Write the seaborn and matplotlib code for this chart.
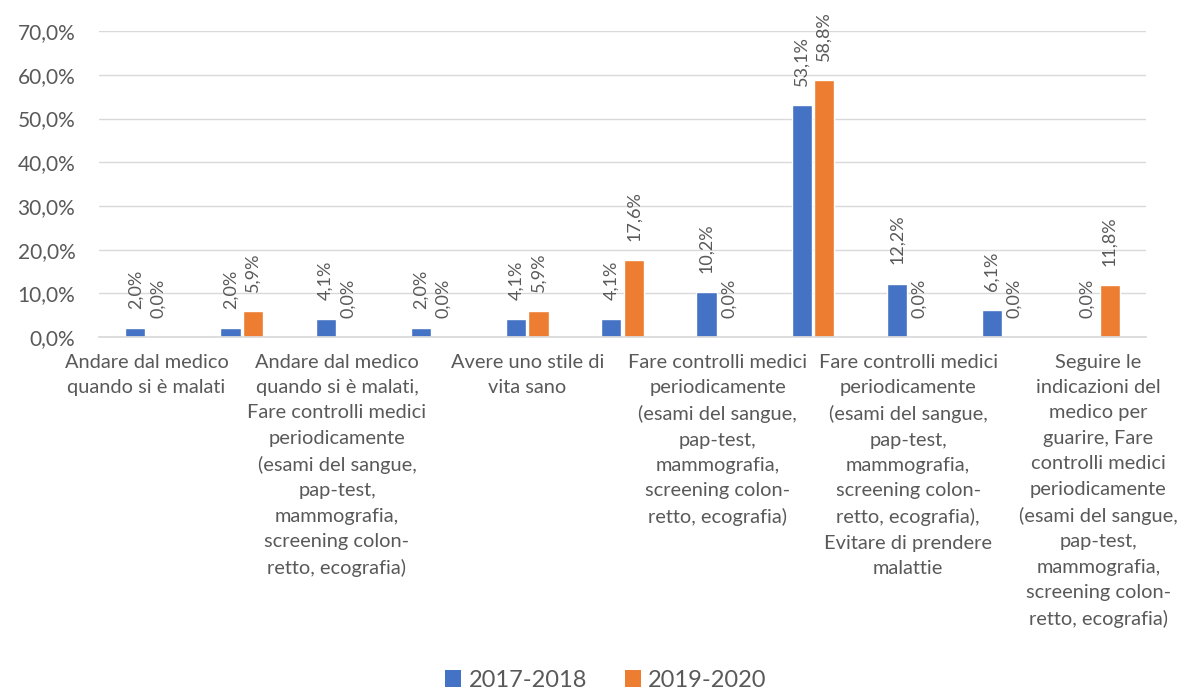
import matplotlib
matplotlib.use("Agg")
import matplotlib.pyplot as plt
import seaborn as sns
import pandas as pd
from matplotlib.ticker import FuncFormatter
from matplotlib.patches import Patch

# ---- data ----
category_keys = ["k01", "k02", "k03", "k04", "k05", "k06",
                 "k07", "k08", "k09", "k10", "k11"]
tick_labels = [
    "Andare dal medico\nquando si è malati",
    "",
    "Andare dal medico\nquando si è malati,\nFare controlli medici\nperiodicamente\n(esami del sangue,\npap-test,\nmammografia,\nscreening colon-\nretto, ecografia)",
    "",
    "Avere uno stile di\nvita sano",
    "",
    "Fare controlli medici\nperiodicamente\n(esami del sangue,\npap-test,\nmammografia,\nscreening colon-\nretto, ecografia)",
    "",
    "Fare controlli medici\nperiodicamente\n(esami del sangue,\npap-test,\nmammografia,\nscreening colon-\nretto, ecografia),\nEvitare di prendere\nmalattie",
    "",
    "Seguire le\nindicazioni del\nmedico per\nguarire, Fare\ncontrolli medici\nperiodicamente\n(esami del sangue,\npap-test,\nmammografia,\nscreening colon-\nretto, ecografia)",
]
series_names = ["2017-2018", "2019-2020"]
values_2017_2018 = [2.0, 2.0, 4.1, 2.0, 4.1, 4.1, 10.2, 53.1, 12.2, 6.1, 0.0]
values_2019_2020 = [0.0, 5.9, 0.0, 0.0, 5.9, 17.6, 0.0, 58.8, 0.0, 0.0, 11.8]
y_ticks = [0, 10, 20, 30, 40, 50, 60, 70]
colors = ["#4472C4", "#ED7D31"]

df = pd.DataFrame({
    "cat": category_keys * 2,
    "serie": [series_names[0]] * len(category_keys) + [series_names[1]] * len(category_keys),
    "val": values_2017_2018 + values_2019_2020,
})

sns.set_theme(style="white")
plt.rcParams["font.family"] = ["Lato", "DejaVu Sans"]
text_color = "#595959"

fig = plt.figure(figsize=(11.81, 6.92), dpi=100)
ax = fig.add_axes([0.0838, 0.513, 0.8866, 0.442])

sns.barplot(data=df, x="cat", y="val", hue="serie", order=category_keys,
            hue_order=series_names, palette=colors, width=0.47, gap=0.1,
            saturation=1, ax=ax, legend=False, errorbar=None)

def fmt_pct(v):
    return f"{v:.1f}".replace(".", ",") + "%"

for cont in ax.containers:
    ax.bar_label(cont, labels=[fmt_pct(b.get_height()) for b in cont],
                 rotation=90, padding=14, fontsize=13, color=text_color,
                 clip_on=False)

ax.set_ylim(0, 70)
ax.set_yticks(y_ticks)
ax.yaxis.set_major_formatter(FuncFormatter(lambda v, p: f"{v:.1f}".replace(".", ",") + "%"))
ax.set_xlim(-0.5, len(category_keys) - 0.5)
ax.set_xticks(range(len(category_keys)))
ax.set_xticklabels(tick_labels, fontsize=14.4, color=text_color, linespacing=1.6,
                   va="top")
ax.tick_params(axis="y", labelsize=15, colors=text_color, length=0, pad=17)
ax.tick_params(axis="x", length=0, pad=12)
ax.set_xlabel("")
ax.set_ylabel("")
ax.grid(axis="y", color="#d9d9d9", linewidth=1)
ax.set_axisbelow(True)
for s in ["top", "right", "left"]:
    ax.spines[s].set_visible(False)
ax.spines["bottom"].set_color("#d9d9d9")

handles = [Patch(facecolor=c, edgecolor="none") for c in colors]
fig.legend(handles, series_names, loc="lower center", bbox_to_anchor=(0.513, -0.012),
           ncol=2, frameon=False, fontsize=17, handlelength=0.7, handleheight=0.7,
           handletextpad=0.3, columnspacing=1.6, labelcolor=text_color,
           borderaxespad=0.0)

fig.savefig("out.png", dpi=100, facecolor="white")
